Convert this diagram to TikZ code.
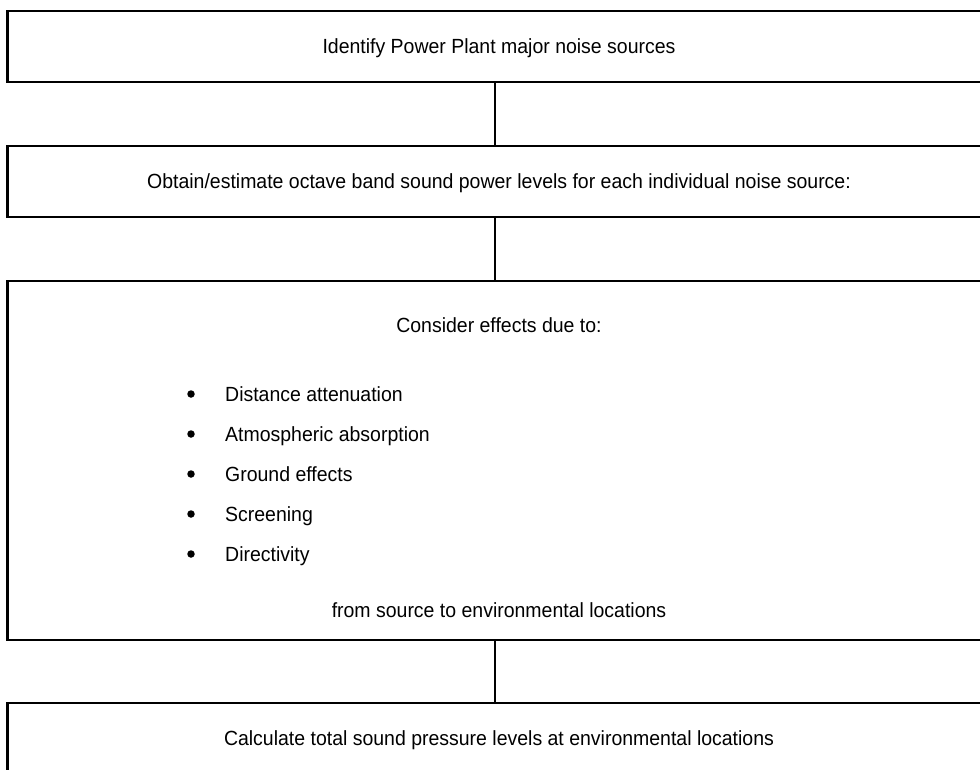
\documentclass[tikz,border=0pt]{standalone}
\usepackage{fontspec}
\setmainfont[FakeStretch=0.95]{Liberation Sans}
\tikzstyle{stepbox}=[draw,line width=2.2pt,minimum width=975pt,inner sep=0pt]
\tikzstyle{link}=[line width=2pt]
\tikzstyle{txt}=[font=\fontsize{20.5}{24}\selectfont,inner sep=0pt,anchor=base]
\tikzstyle{item}=[txt,anchor=base west]
\tikzstyle{dot}=[circle,fill=black,minimum size=7.5pt,inner sep=0pt]

\begin{document}
\begin{tikzpicture}[x=1pt,y=-1pt]
    \useasboundingbox (0,0) rectangle (980,769);
    \clip (0,0) rectangle (980,769);
    \node[stepbox,minimum height=71pt]  (S1) at (495,46.5)  {};
    \node[stepbox,minimum height=71pt]  (S2) at (495,181.5) {};
    \node[stepbox,minimum height=359pt] (S3) at (495,460.5) {};
    \node[stepbox,minimum height=71pt]  (S4) at (495,738.5) {};
	 \draw[link] (S1.south) -- (S2.north);
	 \draw[link] (S2.south) -- (S3.north);
	 \draw[link] (S3.south) -- (S4.north);
    \node[txt] (T1) at (499,53.5)  {Identify Power Plant major noise sources};
    \node[txt] (T2) at (499,188.5) {Obtain/estimate octave band sound power levels for each individual noise source:};
    \node[txt] (T3) at (499,332)   {Consider effects due to:};
    \node[dot] (B1) at (191,394) {};
    \node[dot] (B2) at (191,434) {};
    \node[dot] (B3) at (191,474) {};
    \node[dot] (B4) at (191,514) {};
    \node[dot] (B5) at (191,554) {};
    \node[item] (E1) at (225,401) {Distance attenuation};
    \node[item] (E2) at (225,441) {Atmospheric absorption};
    \node[item] (E3) at (225,481) {Ground effects};
    \node[item] (E4) at (225,521) {Screening};
    \node[item] (E5) at (225,561) {Directivity};
    \node[txt] (T4) at (499,617)   {from source to environmental locations};
    \node[txt] (T5) at (499,745)   {Calculate total sound pressure levels at environmental locations};
\end{tikzpicture}
\end{document}
